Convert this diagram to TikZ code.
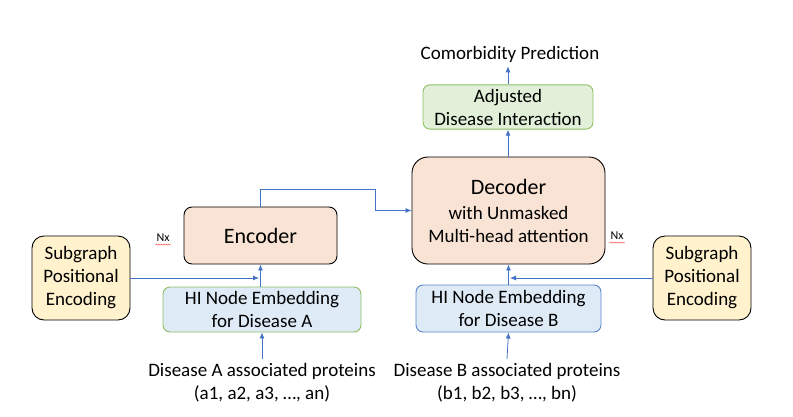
\documentclass[tikz,border=0pt]{standalone}
\usepackage{fontspec}
\setmainfont{Carlito}
\usetikzlibrary{arrows.meta,decorations.pathmorphing,calc}
\definecolor{arrblue}{HTML}{4472C4}
\definecolor{peach}{HTML}{F8E3D5}
\definecolor{cream}{HTML}{FFF2CC}
\definecolor{lblue}{HTML}{DEEBF7}
\definecolor{lgreen}{HTML}{E2F0D9}
\definecolor{gborder}{HTML}{8CBE62}
\definecolor{bborder}{HTML}{5B84C9}
\tikzset{
  txt/.style={font=\fontsize{19}{23}\selectfont, align=center, inner sep=4pt},
  big/.style={draw=black, line width=0.9pt, fill=peach, align=center},
  sg/.style={draw=black, line width=0.9pt, fill=cream, rounded corners=12pt,
    minimum width=98pt, minimum height=84pt, txt},
  hibox/.style={fill=lblue, line width=0.9pt, rounded corners=7pt, txt},
  arr/.style={draw=arrblue, line width=0.8pt, -{Latex[length=6pt,width=5pt]}},
  nx/.style={font=\fontsize{12}{14}\selectfont, inner sep=1pt},
  wavy/.style={draw=red!80, line width=0.4pt, decorate,
    decoration={snake, amplitude=0.6pt, segment length=2.5pt}}
}
\begin{document}
\begin{tikzpicture}[x=1pt,y=-1pt]
\useasboundingbox (0,0) rectangle (793,416);

% main blocks
\node[big, rounded corners=8pt, minimum width=153pt, minimum height=57pt,
  font=\fontsize{22}{26}\selectfont] (enc) at (260.5,235.5) {Encoder};
\node[big, rounded corners=16pt, minimum width=193pt, minimum height=107pt,
  font=\fontsize{19}{23}\selectfont]
  (dec) at (508.5,210.5)
  {{\fontsize{22}{26}\selectfont Decoder}\\[2pt]
   with Unmasked\\
   Multi-head attention};

% positional encodings
\node[sg] (sgL) at (81,278) {Subgraph\\Positional\\Encoding};
\node[sg] (sgR) at (702,278) {Subgraph\\Positional\\Encoding};

% embeddings
\node[hibox, draw=gborder, minimum width=198pt, minimum height=45pt]
  (hiA) at (262,309.5) {HI Node Embedding\\for Disease A};
\node[hibox, draw=bborder, minimum width=185pt, minimum height=47pt]
  (hiB) at (508.5,308.5) {HI Node Embedding\\for Disease B};

% adjusted interaction
\node[txt, draw=gborder, fill=lgreen, line width=0.9pt, rounded corners=7pt,
  minimum width=170pt, minimum height=44pt] (adj) at (508,107)
  {Adjusted\\Disease Interaction};
\node[txt] (out) at (510,54) {Comorbidity Prediction};

% inputs
\node[txt] (pA) at (262,382.5) {Disease A associated proteins\\(a1, a2, a3, …, an)};
\node[txt] (pB) at (507,382.5) {Disease B associated proteins\\(b1, b2, b3, …, bn)};

% Nx labels
\node[nx] (nxL) at (163,238) {Nx};
\node[nx] (nxR) at (617,236) {Nx};
\draw[wavy] ($(nxL.south west)+(0,1.5)$) -- ($(nxL.south east)+(0,1.5)$);
\draw[wavy] ($(nxR.south west)+(0,1.5)$) -- ($(nxR.south east)+(0,1.5)$);

% connectors
\draw[arr] (pA.north) -- (hiA.south);
\draw[arr] (pB.north) -- (hiB.south);
\draw[arr] (hiA.north -| enc.south) -- (enc.south);
\draw[arr] (hiB.north -| dec.south) -- (dec.south);
\draw[arr, shorten >=1.5pt] (sgL.east) -- (sgL.east -| enc.south);
\draw[arr, shorten >=1.5pt] (sgR.west) -- (sgR.west -| dec.south);
\draw[arr] (enc.north) -- ++(0,-17) -- ++(115,0) |- (dec.west);
\draw[arr] (dec.north -| adj.south) -- (adj.south);
\draw[arr] (adj.north) -- (adj.north |- out.south);
\end{tikzpicture}
\end{document}
